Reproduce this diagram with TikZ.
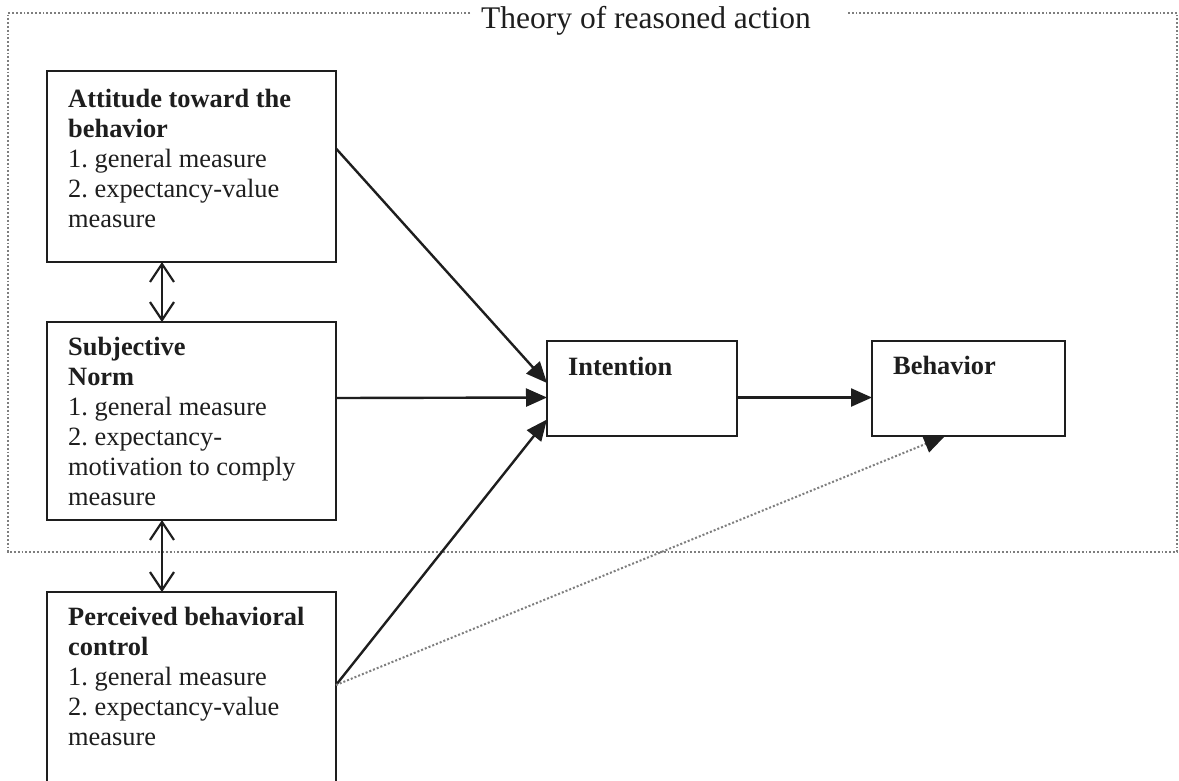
\documentclass[tikz,border=0pt]{standalone}
\usepackage{fontspec}
\setmainfont{Liberation Serif}
\usetikzlibrary{arrows.meta}
\definecolor{ink}{HTML}{1E1E1E}
\definecolor{framegray}{HTML}{7E7E7E}
\tikzset{
  box/.style={draw=ink, line width=2.5pt, inner sep=0pt, outer sep=0pt},
  boxtext/.style={anchor=north west, inner sep=0pt, align=left, text=ink,
    font=\fontsize{26.4}{30}\selectfont\frenchspacing},
  conn/.style={draw=ink, line width=2.4pt, -{Triangle[length=21pt,width=18pt]}},
  dotconn/.style={draw=framegray, line width=2pt, dotted, -{Triangle[length=21pt,width=18pt,color=ink,fill=ink]}},
  dbl/.style={draw=ink, line width=2.2pt, {Straight Barb[length=18pt,width=24pt,line width=2.2pt]}-{Straight Barb[length=18pt,width=24pt,line width=2.2pt]}},
  frame/.style={draw=framegray, line width=1.8pt, dotted},
}
\begin{document}
\begin{tikzpicture}[x=1pt,y=-1pt]
\useasboundingbox (0,0) rectangle (1179,780);
\clip (0,0) rectangle (1179,780);
\fill[white] (0,0) rectangle (1179,780);

% frame
\draw[frame] (470,13) -- (8,13) -- (8,552) -- (1177,552) -- (1177,13) -- (848,13);
\node[anchor=base west, inner sep=0pt, text=ink, font=\fontsize{31.5}{36}\selectfont] (title) at (481,28) {Theory of reasoned action};

% boxes
\node[box, minimum width=289pt, minimum height=191pt] (att) at (191.5,166.5) {};
\node[box, minimum width=289pt, minimum height=198pt] (sn) at (191.5,421) {};
\node[box, minimum width=289pt, minimum height=208pt] (pbc) at (191.5,696) {};
\node[box, minimum width=190pt, minimum height=95pt] (int) at (642,388.5) {};
\node[box, minimum width=193pt, minimum height=95pt] (beh) at (968.5,388.5) {};

% texts
\node[boxtext] (attT) at (68,86) {\strut\textbf{Attitude toward the}\\\textbf{behavior}\\1. general measure\\2. expectancy-value\\measure};
\node[boxtext] (snT) at (68,334.5) {\strut\textbf{Subjective}\\\textbf{Norm}\\1. general measure\\2. expectancy-\\motivation to comply\\measure};
\node[boxtext] (pbcT) at (68,604) {\strut\textbf{Perceived behavioral}\\\textbf{control}\\1. general measure\\2. expectancy-value\\measure};
\node[boxtext] (intT) at (568,354) {\strut\textbf{Intention}};
\node[boxtext] (behT) at (893,353) {\strut\textbf{Behavior}};

% double arrows
\draw[dbl] ([xshift=-29.5pt]att.south) -- ([xshift=-29.5pt]sn.north);
\draw[dbl] ([xshift=-29.5pt]sn.south) -- ([xshift=-29.5pt]pbc.north);

% connectors
\draw[conn] ([yshift=18pt]att.east) -- ([yshift=5.5pt]int.west);
\draw[conn] ([yshift=23pt]sn.east) -- ([yshift=-9pt]int.west);
\draw[conn] ([yshift=11pt]pbc.east) -- ([yshift=-31pt]int.west);
\draw[conn] ([yshift=-9pt]int.east) -- ([yshift=-9pt]beh.west);
\draw[dotconn] ([yshift=11pt]pbc.east) -- ([xshift=-23.5pt]beh.south);
\end{tikzpicture}
\end{document}
